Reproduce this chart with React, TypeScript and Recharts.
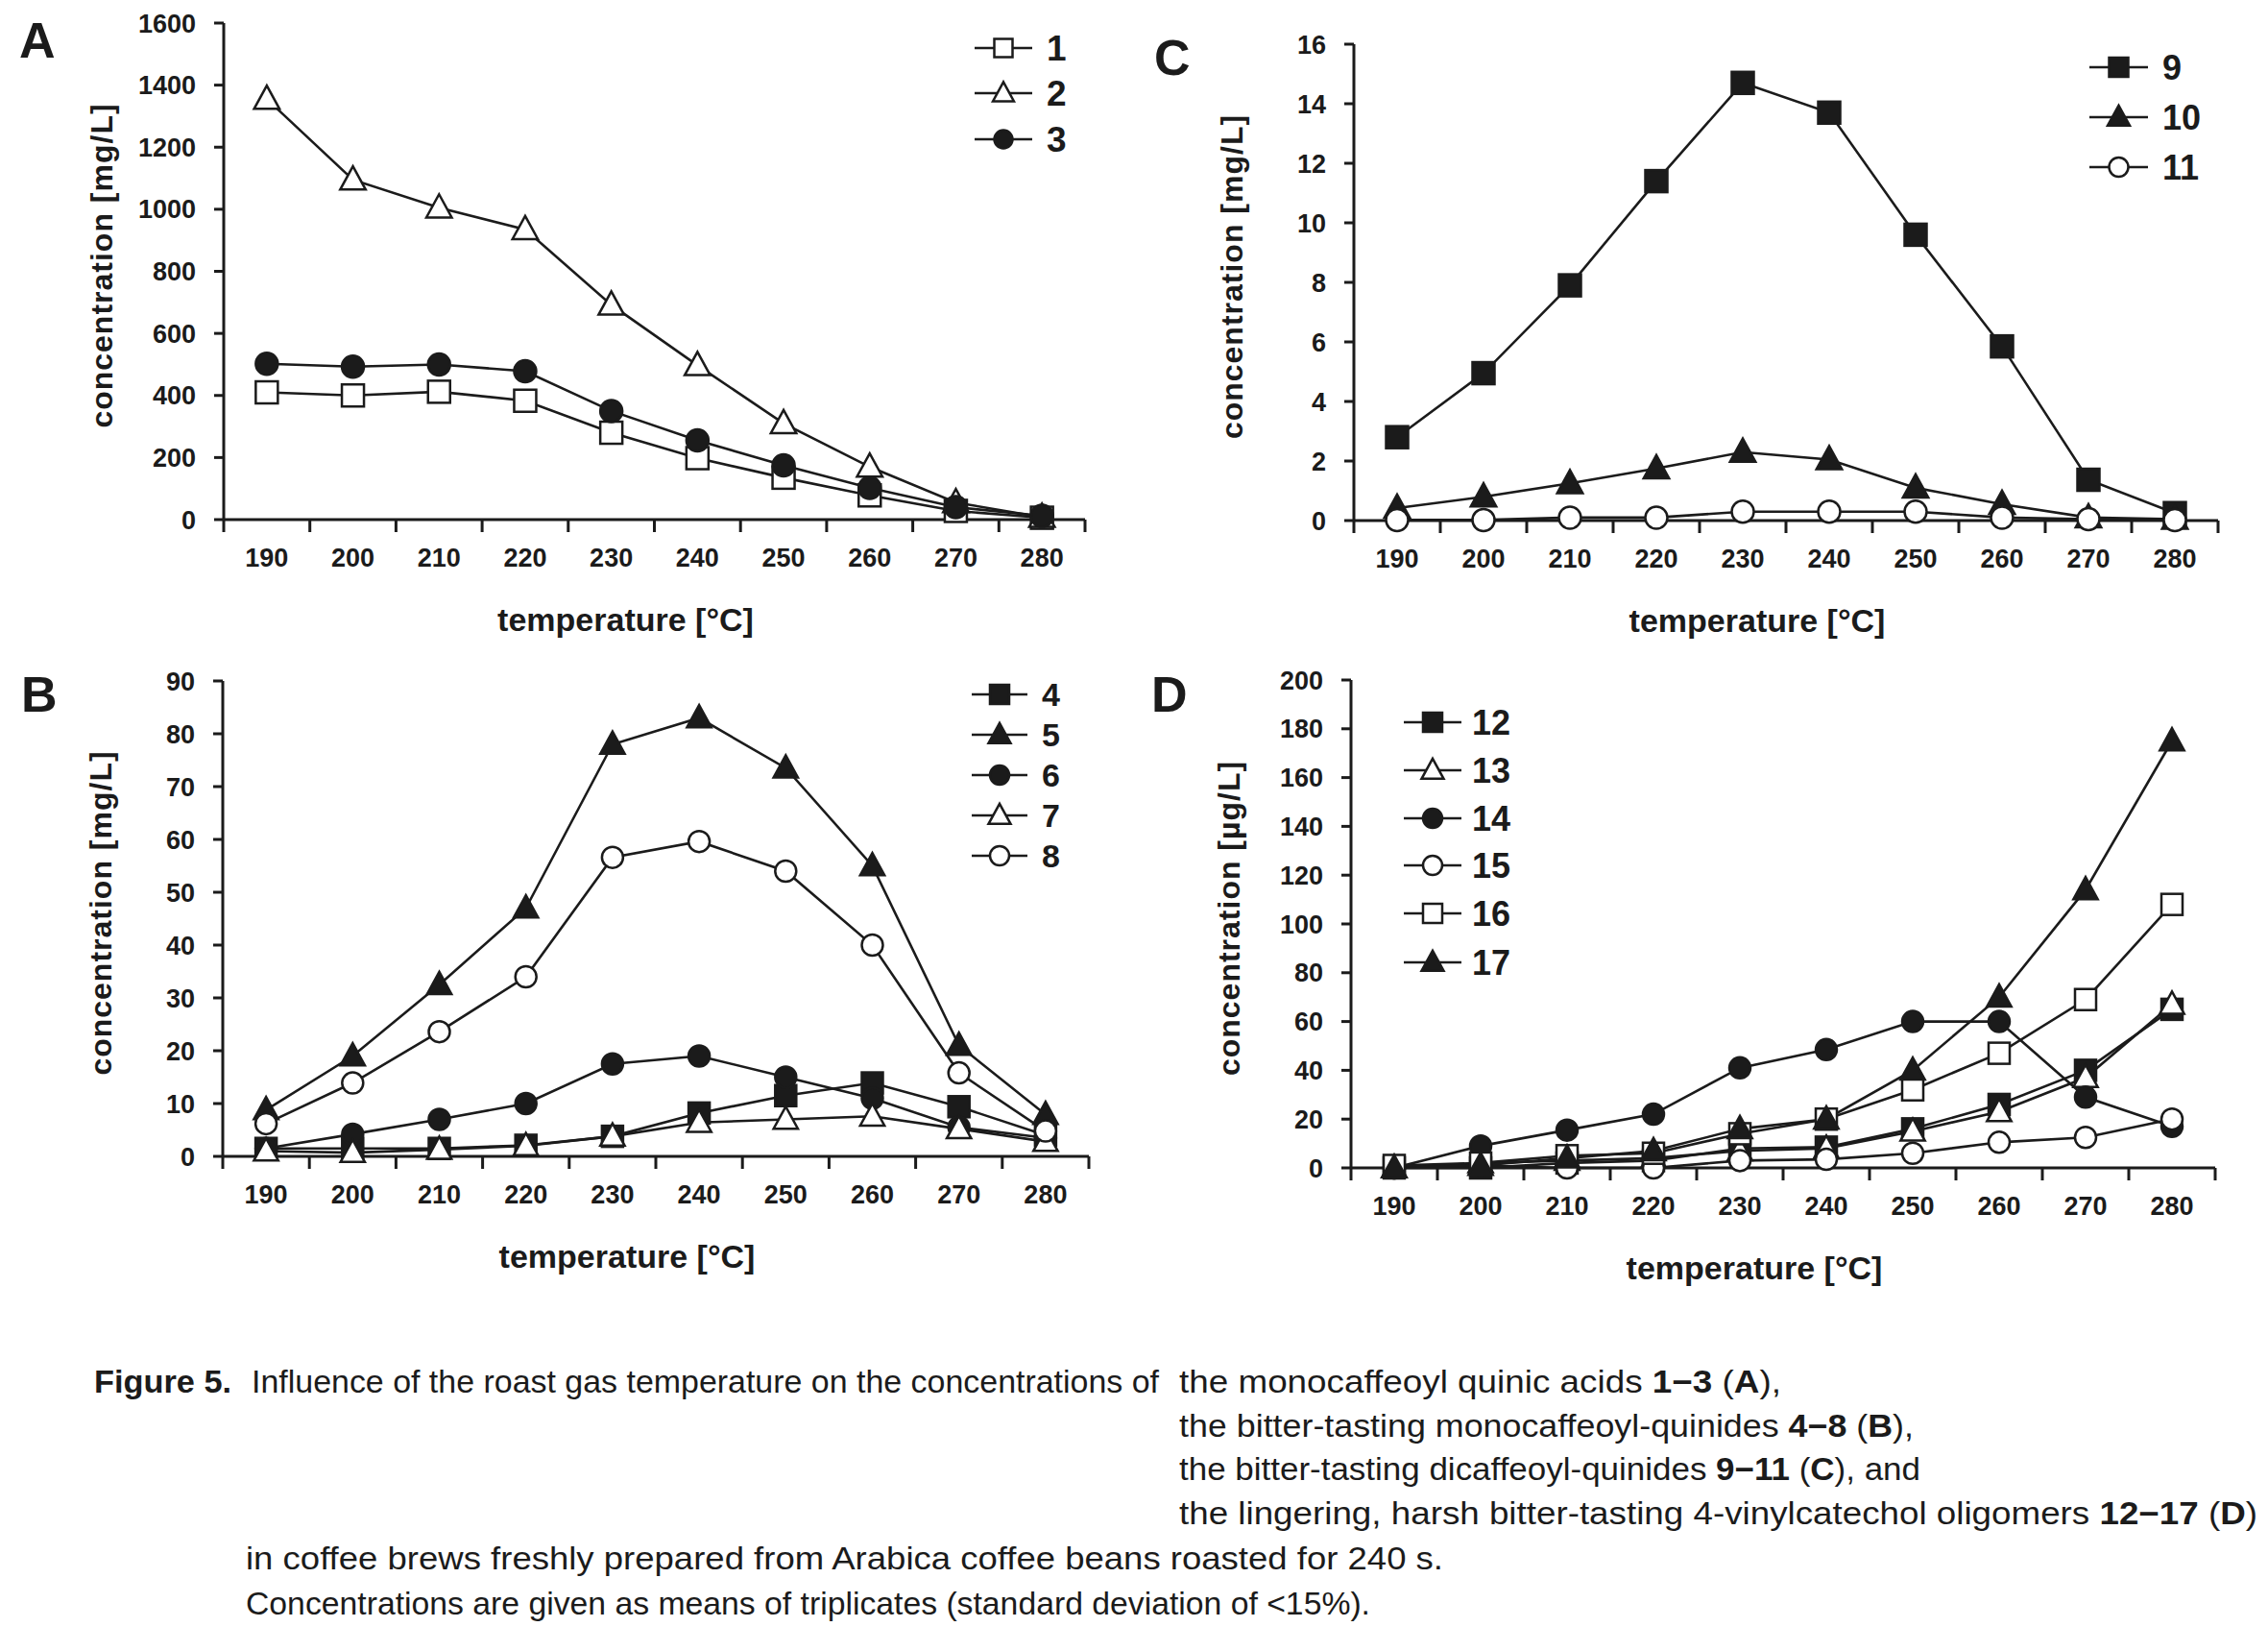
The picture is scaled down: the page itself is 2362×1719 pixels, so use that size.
import React from "react";
import { LineChart, Line, XAxis, YAxis, Label } from "recharts";

const INK = "#1b1b1b";
const FONT = '"Liberation Sans", Arial, Helvetica, sans-serif';

// roast gas temperature [°C]
const temps = [190, 200, 210, 220, 230, 240, 250, 260, 270, 280];
// category boundaries, where the x tick marks sit
const xBounds = [185, 195, 205, 215, 225, 235, 245, 255, 265, 275, 285];

// A: monocaffeoyl quinic acids [mg/L]
const a1 = [410, 400, 412, 383, 280, 198, 135, 78, 28, 6];
const a2 = [1355, 1095, 1005, 935, 692, 497, 310, 170, 55, 8];
const a3 = [502, 493, 500, 478, 350, 255, 175, 102, 40, 12];
const aTicks = [0, 200, 400, 600, 800, 1000, 1200, 1400, 1600];

// B: monocaffeoyl-quinides [mg/L]
const b4 = [1.5, 1.5, 1.5, 2.1, 3.8, 8.2, 11.5, 13.9, 9.4, 4];
const b5 = [8.8, 19, 32.5, 47, 78, 83, 73.5, 55, 21, 7.9];
const b6 = [1.5, 4.2, 7, 10, 17.5, 19, 15, 11, 5.5, 3.5];
const b7 = [1, 0.7, 1.3, 2, 3.8, 6.4, 7, 7.6, 5.2, 2.8];
const b8 = [6.2, 13.9, 23.6, 34, 56.6, 59.6, 54, 40, 15.8, 4.8];
const bTicks = [0, 10, 20, 30, 40, 50, 60, 70, 80, 90];

// C: dicaffeoyl-quinides [mg/L]
const c9 = [2.8, 4.95, 7.9, 11.4, 14.7, 13.7, 9.6, 5.85, 1.37, 0.25];
const c10 = [0.42, 0.8, 1.25, 1.75, 2.3, 2.05, 1.1, 0.55, 0.1, 0.05];
const c11 = [0.02, 0.02, 0.1, 0.1, 0.3, 0.3, 0.3, 0.1, 0.05, 0.02];
const cTicks = [0, 2, 4, 6, 8, 10, 12, 14, 16];

// D: 4-vinylcatechol oligomers [µg/L]
const d12 = [0, 0, 2, 3, 8, 8.5, 16, 26, 40, 65];
const d13 = [0, 2, 3, 4, 7, 8, 15, 23, 37, 67];
const d14 = [0, 9, 15.5, 22, 41, 48.5, 60, 60, 29, 17];
const d15 = [0, 1, 0, 0, 3, 3.5, 6, 10.5, 12.5, 20];
const d16 = [1, 2, 5, 6, 14, 20, 32, 47, 69, 108];
const d17 = [0, 1, 4, 7, 16, 20, 40, 70, 114, 175];
const dTicks = [0, 20, 40, 60, 80, 100, 120, 140, 160, 180, 200];

type Shape = "square" | "triangle" | "circle";
type Series = { key: string; name: string; values: number[]; shape: Shape; filled: boolean };

const seriesA: Series[] = [
  { key: "s1", name: "1", values: a1, shape: "square", filled: false },
  { key: "s2", name: "2", values: a2, shape: "triangle", filled: false },
  { key: "s3", name: "3", values: a3, shape: "circle", filled: true },
];
const seriesB: Series[] = [
  { key: "s4", name: "4", values: b4, shape: "square", filled: true },
  { key: "s5", name: "5", values: b5, shape: "triangle", filled: true },
  { key: "s6", name: "6", values: b6, shape: "circle", filled: true },
  { key: "s7", name: "7", values: b7, shape: "triangle", filled: false },
  { key: "s8", name: "8", values: b8, shape: "circle", filled: false },
];
const seriesC: Series[] = [
  { key: "s9", name: "9", values: c9, shape: "square", filled: true },
  { key: "s10", name: "10", values: c10, shape: "triangle", filled: true },
  { key: "s11", name: "11", values: c11, shape: "circle", filled: false },
];
const seriesD: Series[] = [
  { key: "s12", name: "12", values: d12, shape: "square", filled: true },
  { key: "s13", name: "13", values: d13, shape: "triangle", filled: false },
  { key: "s14", name: "14", values: d14, shape: "circle", filled: true },
  { key: "s15", name: "15", values: d15, shape: "circle", filled: false },
  { key: "s16", name: "16", values: d16, shape: "square", filled: false },
  { key: "s17", name: "17", values: d17, shape: "triangle", filled: true },
];

function Marker({ cx, cy, shape, filled, size }: { cx: number; cy: number; shape: Shape; filled: boolean; size: number }) {
  const fill = filled ? INK : "#fff";
  const sw = 2.5;
  if (shape === "square") {
    return <rect x={cx - size / 2} y={cy - size / 2} width={size} height={size} fill={fill} stroke={INK} strokeWidth={sw} />;
  }
  if (shape === "triangle") {
    const w = size * 1.15;
    const h = size * 1.05;
    const pts = `${cx},${cy - h * 0.58} ${cx + w / 2},${cy + h * 0.42} ${cx - w / 2},${cy + h * 0.42}`;
    return <polygon points={pts} fill={fill} stroke={INK} strokeWidth={sw} strokeLinejoin="miter" />;
  }
  return <circle cx={cx} cy={cy} r={size / 2} fill={fill} stroke={INK} strokeWidth={sw} />;
}

const YW = 150;
const PAD_T = 32;
const PAD_R = 24;
const XH = 150;

type Plot = { left: number; top: number; width: number; height: number };

function Panel({ plot, series, yDomain, yTicks, yTitle, markerSize }: {
  plot: Plot; series: Series[]; yDomain: [number, number]; yTicks: number[]; yTitle: string; markerSize: number;
}) {
  const rows = temps.map((t, i) => {
    const r: Record<string, number> = { t };
    series.forEach((s) => { r[s.key] = s.values[i]; });
    return r;
  });
  const half = plot.width / (xBounds.length - 1) / 2;

  const xTick = (p: any) => {
    const i = p.index;
    if (i == null || i >= temps.length) return <g key={`xt-${i}`} />;
    return (
      <text key={`xt-${i}`} x={p.x + half} y={p.y + 36} textAnchor="middle" fontSize={27} fontWeight={700} fill={INK} fontFamily={FONT}>
        {temps[i]}
      </text>
    );
  };

  const xTitle = (p: any) => {
    const vb = p.viewBox || {};
    return (
      <text x={vb.x + vb.width / 2 - 30} y={vb.y + 116} textAnchor="middle" fontSize={34} fontWeight={700} fill={INK} fontFamily={FONT}>
        temperature [°C]
      </text>
    );
  };

  const yTitleEl = (p: any) => {
    const vb = p.viewBox || {};
    const bx = vb.x + vb.width - 116;
    const cy = vb.y + vb.height / 2 - 6;
    return (
      <text x={bx} y={cy} transform={`rotate(-90 ${bx} ${cy})`} textAnchor="middle" fontSize={32} fontWeight={700} letterSpacing={1} fill={INK} fontFamily={FONT}>
        {yTitle}
      </text>
    );
  };

  const w = YW + plot.width + PAD_R;
  const h = PAD_T + plot.height + XH;

  return (
    <div style={{ position: "absolute", left: plot.left - YW, top: plot.top - PAD_T }}>
      <LineChart width={w} height={h} data={rows} margin={{ top: PAD_T, right: PAD_R, bottom: 0, left: 0 }}>
        <XAxis
          dataKey="t"
          type="number"
          domain={[xBounds[0], xBounds[xBounds.length - 1]]}
          ticks={xBounds}
          interval={0}
          height={XH}
          tickSize={13}
          tickMargin={0}
          tick={xTick}
          axisLine={{ stroke: INK, strokeWidth: 3 }}
          tickLine={{ stroke: INK, strokeWidth: 3 }}
        >
          <Label content={xTitle} />
        </XAxis>
        <YAxis
          type="number"
          domain={yDomain}
          ticks={yTicks}
          interval={0}
          width={YW}
          tickSize={10}
          tickMargin={19}
          tick={{ fontSize: 27, fontWeight: 700, fill: INK, fontFamily: FONT }}
          axisLine={{ stroke: INK, strokeWidth: 3 }}
          tickLine={{ stroke: INK, strokeWidth: 3 }}
        >
          <Label content={yTitleEl} />
        </YAxis>
        {series.map((s) => (
          <Line
            key={s.key}
            dataKey={s.key}
            name={s.name}
            type="linear"
            stroke={INK}
            strokeWidth={2.6}
            isAnimationActive={false}
            activeDot={false}
            dot={(p: any) => (
              <Marker key={`${s.key}-${p.index}`} cx={p.cx} cy={p.cy} shape={s.shape} filled={s.filled} size={markerSize} />
            )}
          />
        ))}
      </LineChart>
    </div>
  );
}

type LegendPos = { x0: number; x1: number; tx: number; rows: number[]; fontSize: number; size: number };

function LegendBlock({ series, pos }: { series: Series[]; pos: LegendPos }) {
  return (
    <g>
      {series.map((s, i) => {
        const y = pos.rows[i];
        const cx = (pos.x0 + pos.x1) / 2;
        return (
          <g key={s.key}>
            <line x1={pos.x0} x2={pos.x1} y1={y} y2={y} stroke={INK} strokeWidth={2.6} />
            <Marker cx={cx} cy={y} shape={s.shape} filled={s.filled} size={pos.size} />
            <text x={pos.tx} y={y + pos.fontSize * 0.36} fontSize={pos.fontSize} fontWeight={700} fill={INK} fontFamily={FONT}>
              {s.name}
            </text>
          </g>
        );
      })}
    </g>
  );
}

const plotA: Plot = { left: 233, top: 24, width: 897, height: 517 };
const plotB: Plot = { left: 232, top: 709, width: 902, height: 495 };
const plotC: Plot = { left: 1410, top: 46, width: 900, height: 496 };
const plotD: Plot = { left: 1407, top: 708, width: 900, height: 508 };

const legA: LegendPos = { x0: 1015, x1: 1075, tx: 1090, rows: [50, 97, 145], fontSize: 37, size: 19 };
const legB: LegendPos = { x0: 1012, x1: 1070, tx: 1085, rows: [723, 765, 807, 849, 891], fontSize: 34, size: 20 };
const legC: LegendPos = { x0: 2176, x1: 2237, tx: 2252, rows: [70, 122, 174], fontSize: 36, size: 20 };
const legD: LegendPos = { x0: 1462, x1: 1522, tx: 1533, rows: [752, 802, 852, 901, 951, 1002], fontSize: 36, size: 20 };

const B = ({ children }: { children: React.ReactNode }) => <tspan fontWeight={700}>{children}</tspan>;

export default function App() {
  const cap = { fontSize: 33, fill: INK, fontFamily: FONT, lengthAdjust: "spacingAndGlyphs" as const };
  return (
    <div style={{ position: "absolute", left: 0, top: 0, width: 2362, height: 1719, background: "#fff", overflow: "hidden" }}>
      <Panel plot={plotA} series={seriesA} yDomain={[0, 1600]} yTicks={aTicks} yTitle="concentration [mg/L]" markerSize={23} />
      <Panel plot={plotB} series={seriesB} yDomain={[0, 90]} yTicks={bTicks} yTitle="concentration [mg/L]" markerSize={22} />
      <Panel plot={plotC} series={seriesC} yDomain={[0, 16]} yTicks={cTicks} yTitle="concentration [mg/L]" markerSize={23} />
      <Panel plot={plotD} series={seriesD} yDomain={[0, 200]} yTicks={dTicks} yTitle="concentration [µg/L]" markerSize={22} />
      <svg width={2362} height={1719} style={{ position: "absolute", left: 0, top: 0, pointerEvents: "none" }}>
        <g fontFamily={FONT} fontWeight={700} fontSize={52} fill={INK}>
          <text x={20} y={60}>A</text>
          <text x={22} y={741}>B</text>
          <text x={1202} y={78}>C</text>
          <text x={1199} y={741}>D</text>
        </g>
        <LegendBlock series={seriesA} pos={legA} />
        <LegendBlock series={seriesB} pos={legB} />
        <LegendBlock series={seriesC} pos={legC} />
        <LegendBlock series={seriesD} pos={legD} />

        <text x={98} y={1450} textLength={143} {...cap} fontWeight={700}>Figure 5.</text>
        <text x={262} y={1450} textLength={945} {...cap}>Influence of the roast gas temperature on the concentrations of</text>
        <text x={1228} y={1450} textLength={627} {...cap}>
          the monocaffeoyl quinic acids <B>1−3</B> (<B>A</B>),
        </text>
        <text x={1228} y={1496} textLength={765} {...cap}>
          the bitter-tasting monocaffeoyl-quinides <B>4−8</B> (<B>B</B>),
        </text>
        <text x={1228} y={1541} textLength={772} {...cap}>
          the bitter-tasting dicaffeoyl-quinides <B>9−11</B> (<B>C</B>), and
        </text>
        <text x={1228} y={1587} textLength={1123} {...cap}>
          the lingering, harsh bitter-tasting 4-vinylcatechol oligomers <B>12−17</B> (<B>D</B>)
        </text>
        <text x={256} y={1634} textLength={1247} {...cap}>
          in coffee brews freshly prepared from Arabica coffee beans roasted for 240 s.
        </text>
        <text x={256} y={1681} textLength={1171} {...cap}>
          Concentrations are given as means of triplicates (standard deviation of &lt;15%).
        </text>
      </svg>
    </div>
  );
}
